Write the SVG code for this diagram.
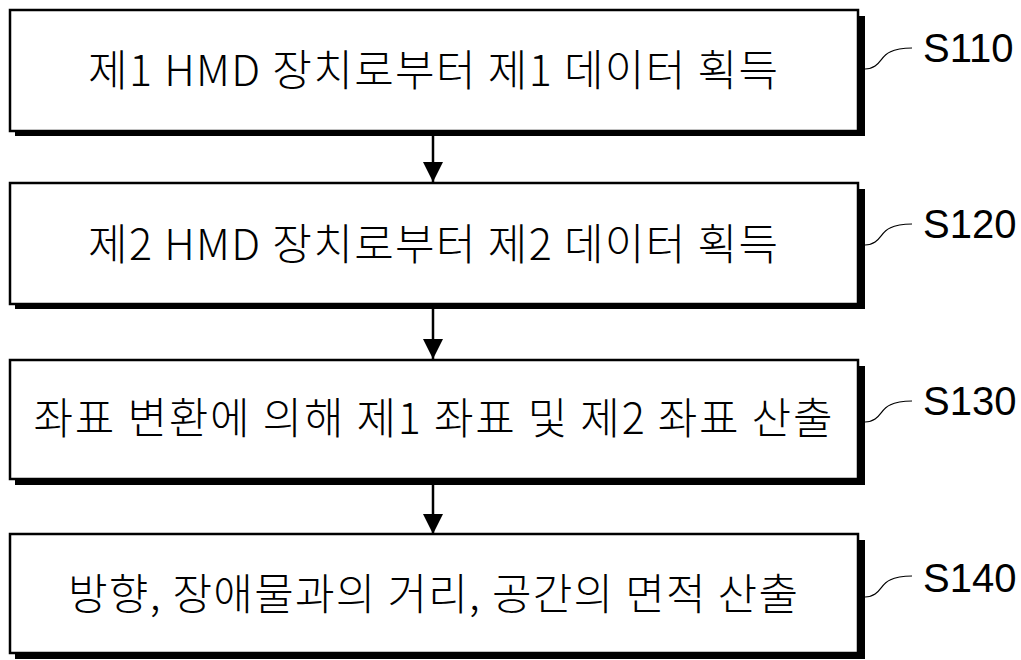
<svg xmlns="http://www.w3.org/2000/svg" width="1021" height="660" viewBox="0 0 1021 660">
<style>
.box{fill:#fff;stroke:#000;stroke-width:2.5}
.shadow{fill:#000}
.t{font-family:"Noto Sans CJK KR","Malgun Gothic",sans-serif;font-size:43px;font-weight:300;fill:#000;text-anchor:middle}
.lbl{font-family:"Liberation Sans",Arial,sans-serif;font-size:40px;fill:#000}
.lead{fill:none;stroke:#000;stroke-width:1.2}
.conn{stroke:#000;stroke-width:2.5}
</style>
<defs>
<marker id="ah" markerWidth="22" markerHeight="20" refX="22" refY="11" orient="auto" markerUnits="userSpaceOnUse" viewBox="0 0 22 22">
<path d="M0,0 L22,11 L0,22 Z" fill="#000"/>
</marker>
</defs>
<g id="connectors">
<line class="conn" x1="433" y1="136" x2="433" y2="182" marker-end="url(#ah)"/>
<line class="conn" x1="433" y1="309" x2="433" y2="359" marker-end="url(#ah)"/>
<line class="conn" x1="433" y1="485" x2="433" y2="534" marker-end="url(#ah)"/>
<path class="lead" d="M865,69 C880,69 880,56 890,52 C898,48 905,48 912,48"/>
<path class="lead" d="M865,245 C880,245 880,232 890,228 C898,224 905,224 912,224"/>
<path class="lead" d="M865,422 C880,422 880,409 890,405 C898,401 905,401 912,401"/>
<path class="lead" d="M865,597 C880,597 880,584 890,580 C898,576 905,576 912,576"/>
</g>
<g id="s110">
<rect class="shadow" x="15" y="16" width="850" height="120"/>
<rect class="box" x="10" y="10" width="848" height="121"/>
<text class="t" x="433" y="86" textLength="690" lengthAdjust="spacing">제1 HMD 장치로부터 제1 데이터 획득</text>
<text class="lbl" x="923" y="62">S110</text>
</g>
<g id="s120">
<rect class="shadow" x="15" y="189" width="850" height="120"/>
<rect class="box" x="10" y="183" width="848" height="121"/>
<text class="t" x="433" y="260" textLength="690" lengthAdjust="spacing">제2 HMD 장치로부터 제2 데이터 획득</text>
<text class="lbl" x="923" y="238">S120</text>
</g>
<g id="s130">
<rect class="shadow" x="15" y="366" width="850" height="119"/>
<rect class="box" x="10" y="360" width="848" height="119"/>
<text class="t" x="433" y="434" textLength="799" lengthAdjust="spacing">좌표 변환에 의해 제1 좌표 및 제2 좌표 산출</text>
<text class="lbl" x="923" y="415">S130</text>
</g>
<g id="s140">
<rect class="shadow" x="15" y="540" width="850" height="119"/>
<rect class="box" x="10" y="534" width="848" height="119"/>
<text class="t" x="433" y="610" textLength="730" lengthAdjust="spacing">방향, 장애물과의 거리, 공간의 면적 산출</text>
<text class="lbl" x="923" y="592">S140</text>
</g>
</svg>
